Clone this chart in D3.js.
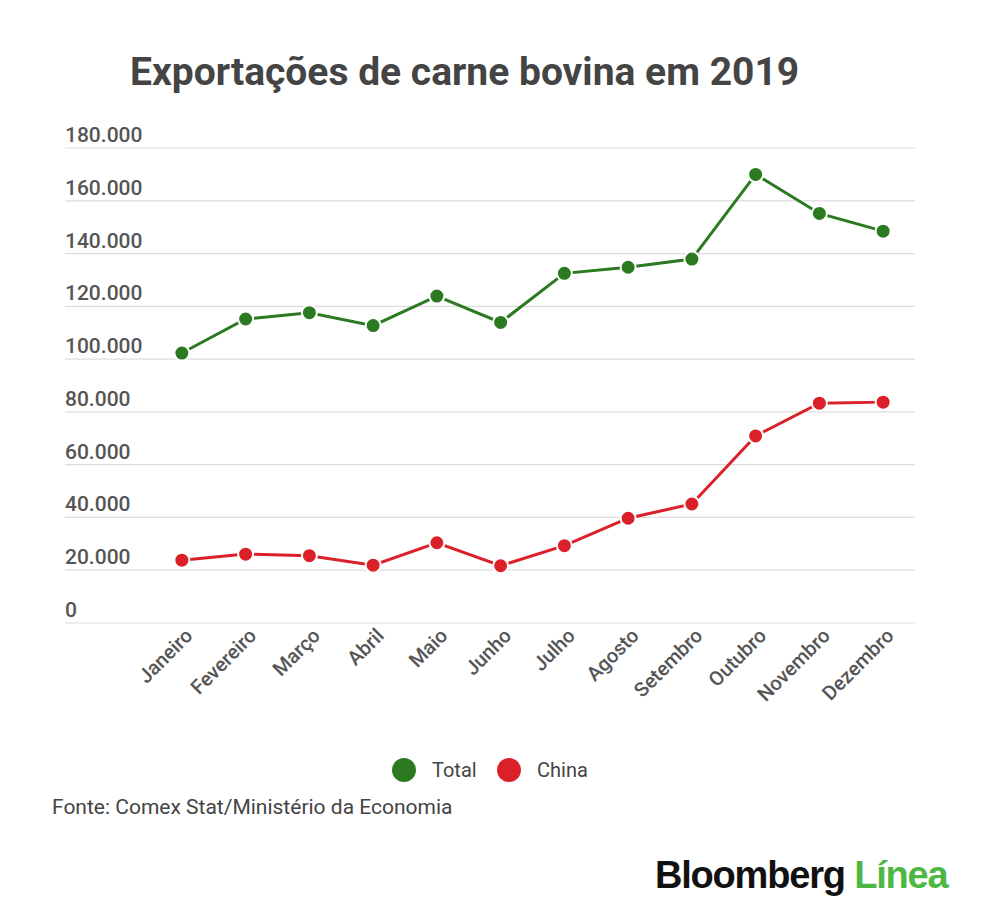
<!DOCTYPE html>
<html>
<head>
<meta charset="utf-8">
<script src="https://cdn.jsdelivr.net/npm/d3@7"></script>
<style>
  body { margin: 0; background: #fff; }
  svg { display: block; }
</style>
</head>
<body>
<div id="chart"></div>
<script>
const months = ['Janeiro', 'Fevereiro', 'Março', 'Abril', 'Maio', 'Junho', 'Julho', 'Agosto', 'Setembro', 'Outubro', 'Novembro', 'Dezembro']
const totalValues = [102300, 115200, 117600, 112700, 123900, 113900, 132500, 134800, 137900, 170000, 155200, 148500]
const chinaValues = [23800, 26100, 25500, 21900, 30400, 21700, 29300, 39700, 45100, 70900, 83300, 83700]
const yTicks = [0, 20000, 40000, 60000, 80000, 100000, 120000, 140000, 160000, 180000]
const seriesNames = ['Total', 'China']

const W = 1000
const H = 922
const GREEN = '#2b7a22'
const RED = '#dc2029'
const TEXT = '#555'
const FONT = 'Roboto, sans-serif'

const svg = d3.select('#chart').append('svg')
  .attr('width', W)
  .attr('height', H)

svg.append('text')
  .attr('x', 130)
  .attr('y', 85)
  .attr('font-family', FONT)
  .attr('font-weight', 700)
  .attr('font-size', 39)
  .attr('fill', '#444')
  .text('Exportações de carne bovina em 2019')

const x = d3.scaleBand().domain(months).range([150, 915])
const y = d3.scaleLinear().domain([0, 180000]).range([623, 148])

const fmt = v => d3.format(',')(v).replace(/,/g, '.')

// grid + y labels
const grid = svg.append('g')
grid.selectAll('line').data(yTicks).enter().append('line')
  .attr('x1', 65).attr('x2', 915)
  .attr('y1', d => y(d)).attr('y2', d => y(d))
  .attr('stroke', '#dcdcdc')
  .attr('stroke-width', 1.2)
grid.selectAll('text').data(yTicks).enter().append('text')
  .attr('x', 65)
  .attr('y', d => y(d) - 6)
  .attr('font-family', FONT)
  .attr('font-weight', 500)
  .attr('font-size', 21)
  .attr('fill', TEXT)
  .text(fmt)

// x labels
svg.append('g').selectAll('text').data(months).enter().append('text')
  .attr('transform', d => `translate(${x(d) + x.bandwidth() / 2 + 12},${y(0) + 14}) rotate(-45)`)
  .attr('text-anchor', 'end')
  .attr('font-family', FONT)
  .attr('font-weight', 500)
  .attr('font-size', 20)
  .attr('fill', TEXT)
  .text(d => d)

const cx = (d, i) => x(months[i]) + x.bandwidth() / 2
const line = d3.line().x(cx).y(d => y(d))

function drawSeries(values, color) {
  const g = svg.append('g')
  g.append('path')
    .datum(values)
    .attr('d', line)
    .attr('fill', 'none')
    .attr('stroke', color)
    .attr('stroke-width', 3)
  g.selectAll('circle').data(values).enter().append('circle')
    .attr('cx', cx)
    .attr('cy', d => y(d))
    .attr('r', 7.5)
    .attr('fill', color)
    .attr('stroke', '#fff')
    .attr('stroke-width', 2)
}

drawSeries(totalValues, GREEN)
drawSeries(chinaValues, RED)

// legend
const legend = svg.append('g').attr('transform', 'translate(0,770)')
const legendColors = [GREEN, RED]
const legendX = [404, 509]
seriesNames.forEach((name, i) => {
  legend.append('circle')
    .attr('cx', legendX[i]).attr('cy', 0).attr('r', 12)
    .attr('fill', legendColors[i])
  legend.append('text')
    .attr('x', legendX[i] + 28).attr('y', 7)
    .attr('font-family', FONT)
    .attr('font-size', 20)
    .attr('fill', '#444')
    .text(name)
})

svg.append('text')
  .attr('x', 52)
  .attr('y', 814)
  .attr('font-family', FONT)
  .attr('font-size', 21)
  .attr('fill', '#444')
  .text('Fonte: Comex Stat/Ministério da Economia')

const logo = svg.append('text')
  .attr('x', 655)
  .attr('y', 888)
  .attr('font-family', '"Liberation Sans", Arial, sans-serif')
  .attr('font-weight', 700)
  .attr('font-size', 38)
  .attr('letter-spacing', -1.2)
logo.append('tspan').attr('fill', '#111').text('Bloomberg ')
logo.append('tspan').attr('fill', '#4cb843').text('Línea')
</script>
</body>
</html>
